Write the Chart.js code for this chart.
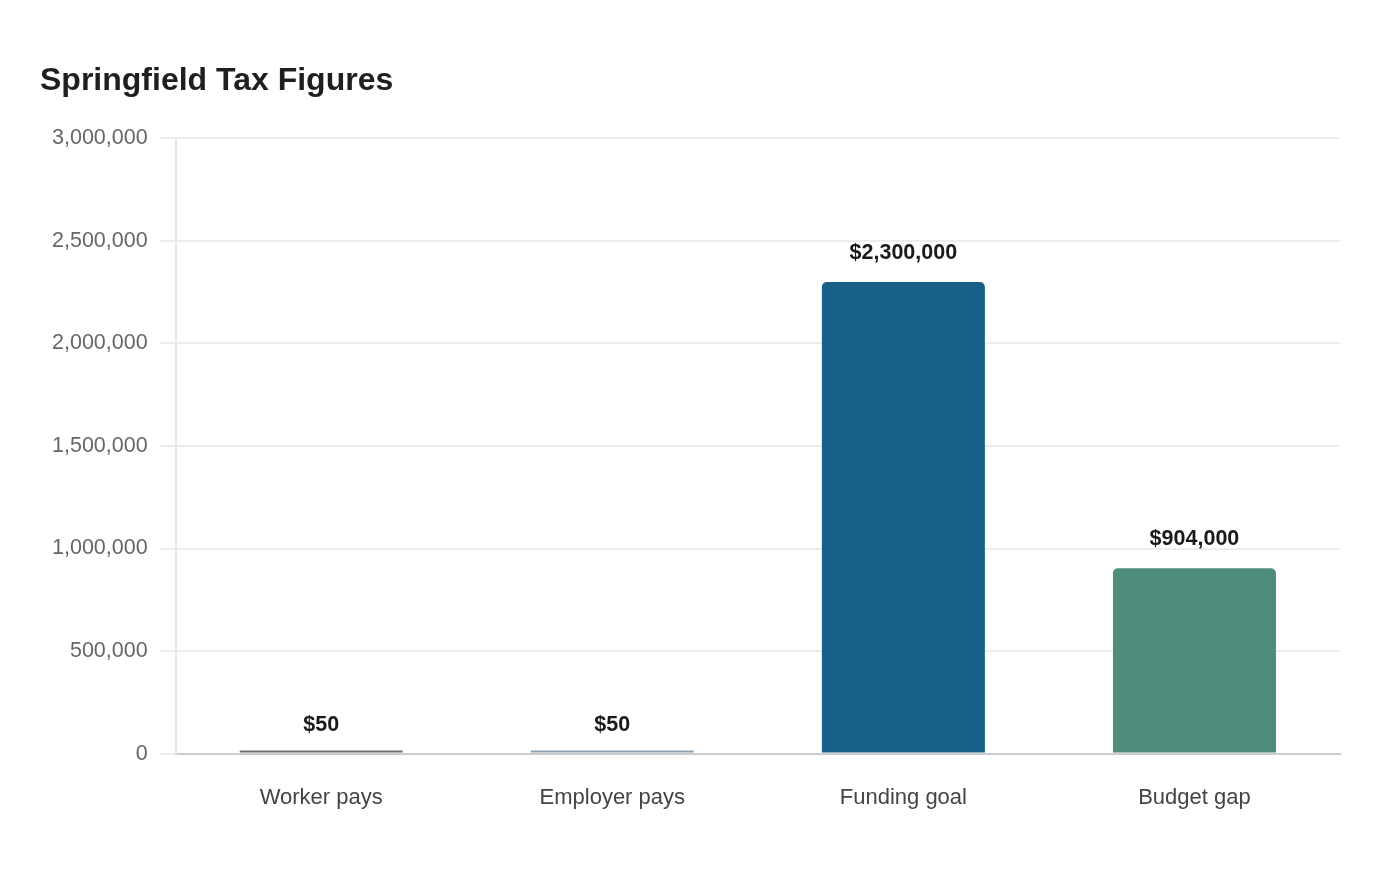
<!DOCTYPE html>
<html>
<head>
<meta charset="utf-8">
<script src="https://cdn.jsdelivr.net/npm/chart.js@4"></script>
<style>
  html, body { margin: 0; padding: 0; background: #fff; }
  #c { display: block; }
</style>
</head>
<body>
<canvas id="c" width="1400" height="880"></canvas>
<script>
const categories = ["Worker pays", "Employer pays", "Funding goal", "Budget gap"];
const amounts = [50, 50, 2300000, 904000];
const barColors = ["#6e6e6e", "#8aa2b3", "#176087", "#4e8c7b"];
const yTicks = [0, 500000, 1000000, 1500000, 2000000, 2500000, 3000000];

const FONT = "'Liberation Sans', Arial, sans-serif";

// value labels above each bar, placed from the y scale (not the min bar length)
const valueLabels = {
  id: "valueLabels",
  afterDatasetsDraw(chart) {
    const ctx = chart.ctx;
    const meta = chart.getDatasetMeta(0);
    const y = chart.scales.y;
    ctx.save();
    ctx.font = "bold 21.5px " + FONT;
    ctx.fillStyle = "#1a1a1a";
    ctx.textAlign = "center";
    ctx.textBaseline = "middle";
    meta.data.forEach((bar, i) => {
      ctx.fillText("$" + amounts[i].toLocaleString("en-US"), bar.x, y.getPixelForValue(amounts[i]) - 29);
    });
    ctx.restore();
  }
};

new Chart(document.getElementById("c"), {
  type: "bar",
  data: {
    labels: categories,
    datasets: [{
      data: amounts,
      backgroundColor: barColors,
      borderRadius: 5,
      minBarLength: 3,
      barPercentage: 0.7,
      categoryPercentage: 0.8
    }]
  },
  options: {
    responsive: false,
    animation: false,
    layout: { padding: { left: 40, right: 60, top: 62, bottom: 38 } },
    plugins: {
      legend: { display: false },
      tooltip: { enabled: false },
      title: {
        display: true,
        text: "Springfield Tax Figures",
        align: "start",
        color: "#1f1f1f",
        font: { family: FONT, size: 32, weight: "bold" },
        padding: { top: 0, bottom: 38 }
      }
    },
    scales: {
      x: {
        grid: { display: false, drawTicks: false },
        border: { color: "#cccccc", width: 2 },
        ticks: {
          color: "#444444",
          font: { family: FONT, size: 22 },
          padding: 31
        }
      },
      y: {
        min: 0,
        max: 3000000,
        afterBuildTicks(axis) { axis.ticks = yTicks.map(v => ({ value: v })); },
        grid: { color: "#ececec", lineWidth: 2, tickLength: 16 },
        border: { color: "#e6e6e6", width: 2 },
        ticks: {
          color: "#666666",
          font: { family: FONT, size: 21.5 },
          padding: 12,
          callback: v => v.toLocaleString("en-US")
        }
      }
    }
  },
  plugins: [valueLabels]
});
</script>
</body>
</html>
